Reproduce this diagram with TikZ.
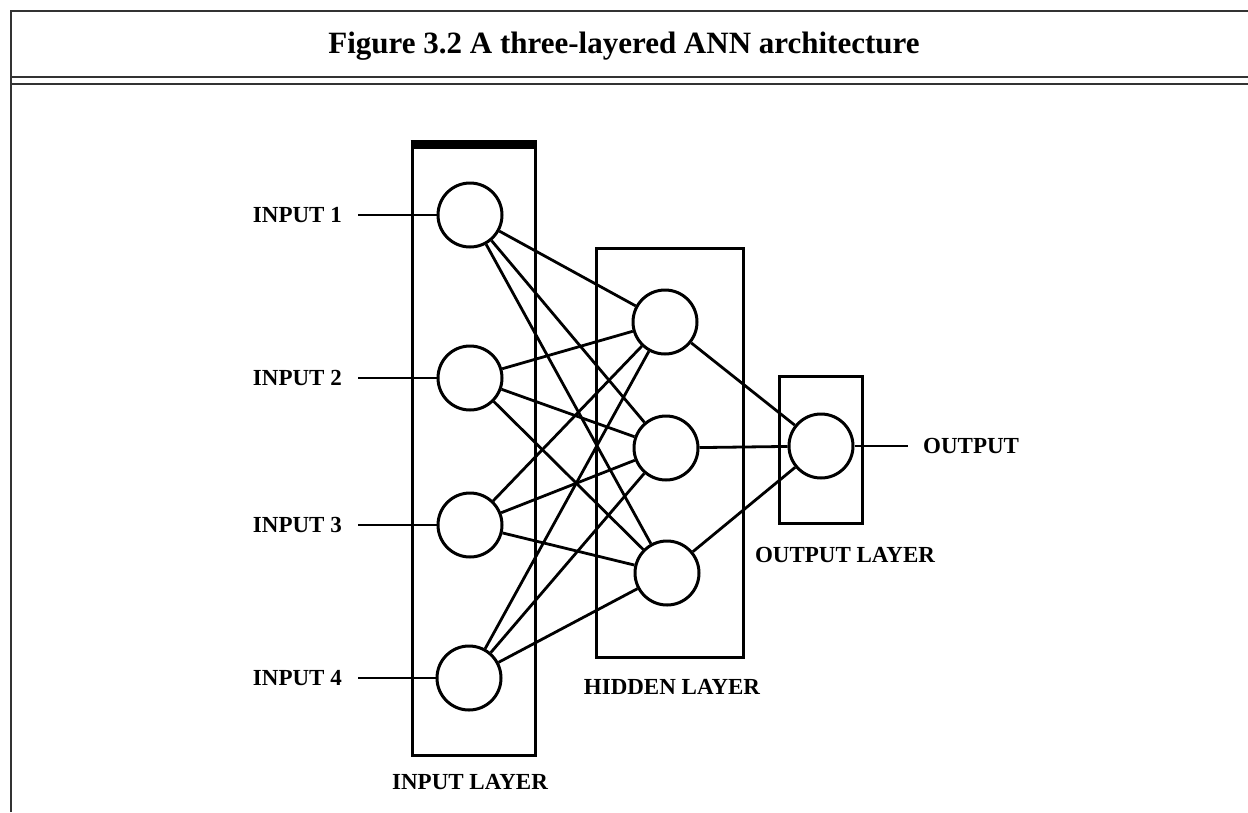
\documentclass[tikz,border=0pt]{standalone}
\usepackage{fontspec}
\setmainfont{Liberation Serif}

\begin{document}
\begin{tikzpicture}
[every node/.style={inner sep=0pt},
 neuron/.style={circle, minimum size=64pt, draw=black, fill=white, line width=3pt},
 layerbox/.style={rectangle, draw=black, line width=3pt},
 lbl/.style={font=\fontsize{23}{27}\selectfont\bfseries},
 frame/.style={draw=black!80, line width=2pt},
 link/.style={line width=2.8pt, color=black}]
\useasboundingbox (0pt, 0pt) rectangle (1248pt, -812pt);
% frame and title row
\draw [frame] (11pt, -812pt) -- (11pt, -11pt) -- (1248pt, -11pt);
\draw [frame] (11pt, -77pt) -- (1248pt, -77pt);
\draw [frame, line width=1.2pt] (11pt, -84pt) -- (1248pt, -84pt);
\node (title) [font=\fontsize{31}{37}\selectfont\bfseries] at (624pt, -46pt) {Figure 3.2 A three-layered ANN architecture};
% layer boxes
\node (inbox) [layerbox, minimum width=123pt, minimum height=608pt] at (473.5pt, -451pt) {};
\node (hidbox) [layerbox, minimum width=147pt, minimum height=409pt] at (669.5pt, -452.5pt) {};
\node (outbox) [layerbox, minimum width=83pt, minimum height=147pt] at (820.5pt, -449.5pt) {};
\draw [line width=6pt] ([yshift=3pt]inbox.north west) -- ([yshift=3pt]inbox.north east);
% neurons
\node (i1) [neuron] at (470pt, -215pt) {};
\node (i2) [neuron] at (470pt, -378pt) {};
\node (i3) [neuron] at (470pt, -525pt) {};
\node (i4) [neuron] at (469pt, -678pt) {};
\node (h1) [neuron] at (665pt, -322pt) {};
\node (h2) [neuron] at (666pt, -448pt) {};
\node (h3) [neuron] at (667pt, -573pt) {};
\node (o) [neuron] at (821pt, -446pt) {};
% labels
\node (lab1) [lbl, anchor=east] at (342pt, -215pt) {INPUT 1};
\node (lab2) [lbl, anchor=east] at (342pt, -378pt) {INPUT 2};
\node (lab3) [lbl, anchor=east] at (342pt, -525pt) {INPUT 3};
\node (lab4) [lbl, anchor=east] at (342pt, -678pt) {INPUT 4};
\node (out) [lbl, anchor=west] at (923pt, -446pt) {OUTPUT};
\node (inlbl) [lbl] at (470pt, -782pt) {INPUT LAYER};
\node (hidlbl) [lbl] at (672pt, -687pt) {HIDDEN LAYER};
\node (outlbl) [lbl] at (845pt, -555pt) {OUTPUT LAYER};
% connections
\foreach \i in {1,...,4}
  \draw [link] ([xshift=16pt]lab\i.east) -- (i\i);
\foreach \i in {1,...,4}
  \foreach \h in {1,2,3}
    \draw [link] (i\i) -- (h\h);
\foreach \h in {1,2,3}
  \draw [link] (h\h) -- (o);
\draw [link] (o) -- ([xshift=-15pt]out.west);
\end{tikzpicture}
\end{document}
